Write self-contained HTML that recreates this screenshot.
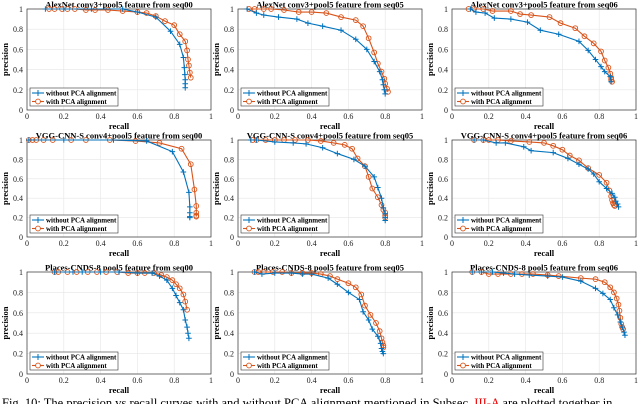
<!DOCTYPE html>
<html><head><meta charset="utf-8"><style>
html,body{margin:0;padding:0;background:#fff;width:640px;height:404px;overflow:hidden}
svg{display:block;font-family:"Liberation Serif",serif}
</style></head><body>
<svg id="fig" width="640" height="404" viewBox="0 0 640 404" xmlns="http://www.w3.org/2000/svg">
<text x="2" y="407" font-size="12.5" fill="#000">Fig. 10: The precision vs recall curves with and without PCA alignment mentioned in Subsec. <tspan fill="#e00">III-A</tspan> are plotted together in</text>
</svg>
<script>
const titles=["AlexNet conv3+pool5 feature from seq00","AlexNet conv3+pool5 feature from seq05","AlexNet conv3+pool5 feature from seq06",
"VGG-CNN-S conv4+pool5 feature from seq00","VGG-CNN-S conv4+pool5 feature from seq05","VGG-CNN-S conv4+pool5 feature from seq06",
"Places-CNDS-8 pool5 feature from seq00","Places-CNDS-8 pool5 feature from seq05","Places-CNDS-8 pool5 feature from seq06"];
const tickLabels=["0","0.2","0.4","0.6","0.8","1"];
const tickValues=[0,0.2,0.4,0.6,0.8,1];
const seriesNames=["without PCA alignment","with PCA alignment"];
const blueRecall=[
[0.1,0.2,0.35,0.52,0.6,0.7,0.78,0.83,0.85,0.855,0.858,0.86,0.86,0.86],
[0.05,0.1,0.14,0.22,0.32,0.38,0.46,0.56,0.64,0.7,0.74,0.77,0.785,0.79,0.795,0.8],
[0.1,0.13,0.18,0.23,0.32,0.41,0.48,0.58,0.69,0.74,0.78,0.81,0.83,0.86,0.865],
[0.01,0.2,0.47,0.65,0.79,0.85,0.88,0.885,0.885,0.885,0.885],
[0.07,0.1,0.2,0.3,0.37,0.46,0.54,0.63,0.69,0.74,0.76,0.78,0.79,0.8,0.8,0.8],
[0.12,0.17,0.24,0.29,0.39,0.43,0.55,0.63,0.69,0.74,0.77,0.8,0.84,0.87,0.885,0.89,0.9,0.905],
[0.15,0.25,0.3,0.4,0.5,0.6,0.68,0.72,0.76,0.79,0.81,0.83,0.85,0.86,0.87,0.875,0.88],
[0.09,0.13,0.2,0.29,0.35,0.4,0.49,0.54,0.6,0.66,0.68,0.71,0.73,0.76,0.775,0.78,0.785,0.79],
[0.11,0.16,0.22,0.28,0.34,0.42,0.52,0.6,0.7,0.78,0.82,0.86,0.88,0.9,0.915,0.925,0.935,0.94]];
const bluePrecision=[
[1,1,1,1,0.97,0.92,0.78,0.65,0.52,0.42,0.35,0.3,0.26,0.22],
[1,0.96,0.94,0.92,0.9,0.86,0.83,0.79,0.7,0.6,0.48,0.38,0.3,0.25,0.2,0.16],
[1,0.97,0.96,0.91,0.9,0.87,0.79,0.75,0.68,0.59,0.5,0.43,0.38,0.33,0.28],
[1,1,1,0.99,0.88,0.67,0.46,0.31,0.25,0.21,0.2],
[1,1,0.98,0.97,0.96,0.92,0.86,0.8,0.73,0.62,0.51,0.4,0.3,0.24,0.2,0.17],
[1,1,0.97,0.97,0.93,0.89,0.87,0.81,0.75,0.7,0.65,0.57,0.5,0.45,0.41,0.37,0.34,0.31],
[1,1,1,1,1,0.99,0.99,0.96,0.92,0.84,0.77,0.7,0.63,0.53,0.46,0.4,0.35],
[1,0.98,0.99,0.99,0.98,0.98,0.94,0.88,0.8,0.73,0.61,0.53,0.44,0.37,0.3,0.25,0.22,0.2],
[1,1,1,0.99,0.98,0.97,0.96,0.95,0.91,0.84,0.79,0.73,0.65,0.58,0.51,0.46,0.41,0.38]];
const orangeRecall=[
[0.12,0.15,0.19,0.22,0.26,0.32,0.37,0.44,0.52,0.6,0.65,0.7,0.75,0.8,0.83,0.86,0.87,0.875,0.88,0.885,0.89],
[0.06,0.09,0.14,0.18,0.25,0.33,0.4,0.48,0.56,0.64,0.68,0.71,0.74,0.76,0.78,0.795,0.8,0.81,0.815],
[0.09,0.12,0.17,0.22,0.32,0.37,0.43,0.53,0.59,0.67,0.72,0.77,0.81,0.83,0.85,0.86,0.865,0.865,0.87],
[0.01,0.03,0.05,0.09,0.14,0.24,0.32,0.45,0.59,0.72,0.84,0.89,0.91,0.92,0.92,0.92,0.92],
[0.08,0.1,0.15,0.2,0.25,0.31,0.38,0.45,0.52,0.58,0.62,0.65,0.69,0.71,0.73,0.76,0.78,0.79,0.8,0.8,0.8],
[0.12,0.17,0.2,0.25,0.32,0.42,0.5,0.55,0.6,0.64,0.69,0.74,0.8,0.84,0.855,0.865,0.87,0.875,0.88,0.885],
[0.15,0.17,0.22,0.27,0.33,0.38,0.43,0.49,0.55,0.6,0.64,0.69,0.73,0.76,0.79,0.81,0.83,0.85,0.86,0.87],
[0.09,0.11,0.14,0.19,0.24,0.29,0.35,0.4,0.45,0.5,0.54,0.6,0.64,0.67,0.69,0.72,0.75,0.77,0.78,0.785,0.79,0.79],
[0.11,0.16,0.2,0.25,0.32,0.38,0.44,0.52,0.58,0.7,0.78,0.83,0.86,0.88,0.895,0.905,0.91,0.915,0.92,0.925,0.93]];
const orangePrecision=[
[1,1,1,1,1,0.99,0.99,0.99,0.98,0.97,0.96,0.93,0.88,0.84,0.75,0.68,0.59,0.5,0.44,0.37,0.32],
[1,1,1,1,0.99,0.97,0.97,0.96,0.92,0.89,0.83,0.71,0.57,0.46,0.38,0.31,0.26,0.21,0.18],
[1,1,1,0.98,0.98,0.95,0.94,0.92,0.86,0.81,0.73,0.66,0.58,0.49,0.42,0.36,0.32,0.3,0.28],
[1,1,1,1,1,1,1,1,0.99,0.97,0.91,0.75,0.49,0.32,0.25,0.22,0.21],
[1,1,1,1,1,1,1,0.99,0.97,0.95,0.91,0.81,0.73,0.62,0.5,0.41,0.33,0.28,0.25,0.22,0.2],
[1,1,1,1,0.99,0.98,0.97,0.94,0.9,0.84,0.79,0.71,0.64,0.56,0.48,0.42,0.38,0.35,0.33,0.32],
[1,1,1,1,1,1,1,1,0.99,0.99,0.99,0.99,0.97,0.95,0.92,0.88,0.84,0.78,0.71,0.63],
[1,1,1,1,1,0.99,0.99,0.99,0.98,0.96,0.93,0.89,0.85,0.78,0.67,0.58,0.5,0.42,0.35,0.31,0.28,0.26],
[1,1,0.98,0.98,0.98,0.98,0.98,0.97,0.96,0.94,0.93,0.9,0.85,0.8,0.74,0.68,0.62,0.55,0.49,0.46,0.44]];

const NS="http://www.w3.org/2000/svg";
const svg=document.getElementById('fig');
const colX=[27,238,452], rowY=[[9,110],[140,237],[272,374]], W=184;
const BLUE="#0072BD", ORANGE="#D95319";
function mk(tag,attrs,parent){const e=document.createElementNS(NS,tag);for(const k in attrs)e.setAttribute(k,attrs[k]);(parent||svg).appendChild(e);return e;}
for(let p=0;p<9;p++){
  const c=p%3,r=Math.floor(p/3);
  const x0=colX[c],x1=x0+W,y0=rowY[r][0],y1=rowY[r][1];
  const sx=v=>x0+v*(x1-x0), sy=v=>y1-v*(y1-y0);
  const g=mk('g',{});
  
  
  mk('rect',{x:x0,y:y0,width:W,height:y1-y0,fill:'#fff',stroke:'none'},g);
  tickValues.forEach((v,i)=>{
    mk('line',{x1:sx(v),x2:sx(v),y1:y0,y2:y1,stroke:'#e6e6e6','stroke-width':0.6},g);
    mk('line',{x1:x0,x2:x1,y1:sy(v),y2:sy(v),stroke:'#e6e6e6','stroke-width':0.6},g);
    const tx=mk('text',{x:sx(v),y:y1+9,'font-size':8,'text-anchor':'middle',fill:'#222'},g);tx.textContent=tickLabels[i];
    
    
    const ty=mk('text',{x:x0-4,y:sy(v)+3,'font-size':8,'text-anchor':'end',fill:'#222'},g);ty.textContent=tickLabels[i];
    
    
  });
  mk('rect',{x:x0,y:y0,width:W,height:y1-y0,fill:'none',stroke:'#333','stroke-width':0.7},g);
  const t=mk('text',{x:(x0+x1)/2,y:y0-1.5,'font-size':8.5,'font-weight':'bold','text-anchor':'middle'},g);t.textContent=titles[p];
  
  
  const xl=mk('text',{x:(x0+x1)/2,y:y1+19,'font-size':8.5,'font-weight':'bold','text-anchor':'middle'},g);xl.textContent='recall';
  
  
  const yl=mk('text',{x:0,y:0,'font-size':8.5,'font-weight':'bold','text-anchor':'middle',transform:`translate(${x0-19},${(y0+y1)/2}) rotate(-90)`},g);yl.textContent='precision';
  
  
  // orange
  const oR=orangeRecall[p],oP=orangePrecision[p];
  const ol=mk('polyline',{points:oR.map((v,i)=>sx(v)+','+sy(oP[i])).join(' '),fill:'none',stroke:ORANGE,'stroke-width':1.1},g);
  
  
  oR.forEach((v,i)=>{const m=mk('circle',{cx:sx(v),cy:sy(oP[i]),r:2.4,fill:'none',stroke:ORANGE,'stroke-width':0.9},g);
    
    });
  const bR=blueRecall[p],bP=bluePrecision[p];
  const bl=mk('polyline',{points:bR.map((v,i)=>sx(v)+','+sy(bP[i])).join(' '),fill:'none',stroke:BLUE,'stroke-width':1.1},g);
  
  
  bR.forEach((v,i)=>{const X=sx(v),Y=sy(bP[i]);
    const m=mk('path',{d:`M${X-2.8},${Y}H${X+2.8}M${X},${Y-2.8}V${Y+2.8}`,stroke:BLUE,'stroke-width':1},g);
    
    });
  // legend
  const lg=mk('g',{},g);
  
  
  const ly=y1-22;
  mk('rect',{x:x0+3,y:ly,width:88,height:18,fill:'#fff',stroke:'#333','stroke-width':0.6},lg);
  [[BLUE,'plus'],[ORANGE,'circle']].forEach((s,i)=>{
    const yy=ly+5+i*8.5,lx=x0+5;
    mk('line',{x1:lx,x2:lx+12,y1:yy,y2:yy,stroke:s[0],'stroke-width':1.1},lg);
    if(s[1]==='plus')mk('path',{d:`M${lx+3},${yy}H${lx+9}M${lx+6},${yy-3}V${yy+3}`,stroke:s[0],'stroke-width':1},lg);
    else mk('circle',{cx:lx+6,cy:yy,r:2.4,fill:'#fff',stroke:s[0],'stroke-width':0.9},lg);
    const tt=mk('text',{x:lx+14,y:yy+2.5,'font-size':7,'font-weight':'bold'},lg);tt.textContent=seriesNames[i];
    
    
  });
}
</script>
</body></html>
